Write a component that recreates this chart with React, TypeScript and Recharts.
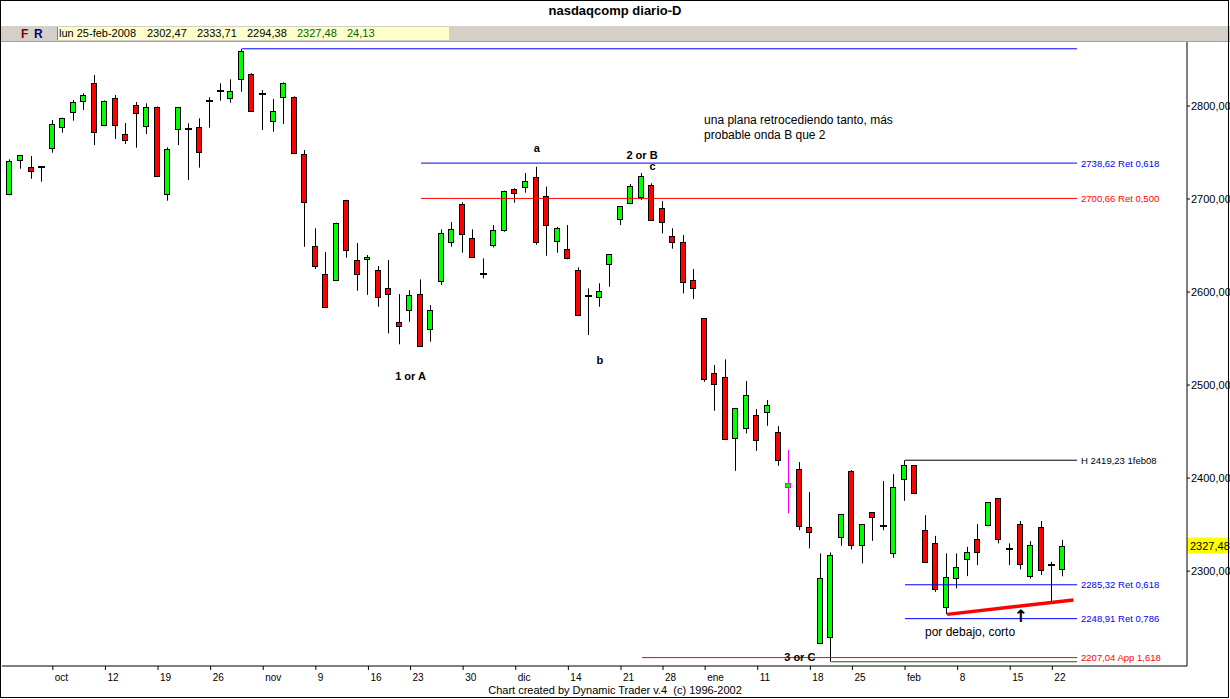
import React from "react";
import { ComposedChart, Bar, XAxis, YAxis, ReferenceLine, ReferenceDot } from "recharts";

const FONT = "'Liberation Sans', Arial, sans-serif";

// trading days, 1 oct 2007 .. 25 feb 2008
const dates = [
  "1-oct", "2-oct", "3-oct", "4-oct", "5-oct", "8-oct", "9-oct", "10-oct", "11-oct", "12-oct",
  "15-oct", "16-oct", "17-oct", "18-oct", "19-oct", "22-oct", "23-oct", "24-oct", "25-oct", "26-oct",
  "29-oct", "30-oct", "31-oct", "1-nov", "2-nov", "5-nov", "6-nov", "7-nov", "8-nov", "9-nov",
  "12-nov", "13-nov", "14-nov", "15-nov", "16-nov", "19-nov", "20-nov", "21-nov", "23-nov", "26-nov",
  "27-nov", "28-nov", "29-nov", "30-nov", "3-dic", "4-dic", "5-dic", "6-dic", "7-dic", "10-dic",
  "11-dic", "12-dic", "13-dic", "14-dic", "17-dic", "18-dic", "19-dic", "20-dic", "21-dic", "24-dic",
  "26-dic", "27-dic", "28-dic", "31-dic", "2-ene", "3-ene", "4-ene", "7-ene", "8-ene", "9-ene",
  "10-ene", "11-ene", "14-ene", "15-ene", "16-ene", "17-ene", "18-ene", "22-ene", "23-ene", "24-ene",
  "25-ene", "28-ene", "29-ene", "30-ene", "31-ene", "1-feb", "4-feb", "5-feb", "6-feb", "7-feb",
  "8-feb", "11-feb", "12-feb", "13-feb", "14-feb", "15-feb", "19-feb", "20-feb", "21-feb", "22-feb",
  "25-feb",
];

const opens = [
  2705, 2741.6, 2734.1, 2734, 2755.2, 2777.7, 2793.9, 2805.7, 2824.4, 2779.9,
  2808.3, 2769.6, 2800.8, 2778.8, 2798.6, 2705.7, 2775.6, 2775.2, 2777.1, 2804.8,
  2816.2, 2808.3, 2828.7, 2834.1, 2812.3, 2783.5, 2810, 2809.4, 2748.1, 2649.1,
  2619, 2612.6, 2698.6, 2634.1, 2635.2, 2623.6, 2604, 2567.4, 2580.6, 2597.5,
  2559.9, 2611.5, 2653.4, 2694.3, 2657.7, 2619.6, 2650.2, 2666.3, 2710.4, 2712.6,
  2723.7, 2703.2, 2654.5, 2645.9, 2623.3, 2595.8, 2594.9, 2629.8, 2678.2, 2695.4,
  2701.8, 2714.7, 2690, 2660.2, 2653.4, 2612.6, 2571.7, 2512.6, 2508.3, 2442.7,
  2453.4, 2467.4, 2470.7, 2449.1, 2390, 2409.3, 2346.9, 2222.2, 2229.3, 2336.2,
  2407.5, 2327.6, 2363.1, 2349.2, 2319, 2398.6, 2413.6, 2344.1, 2329.8, 2260.9,
  2292.1, 2312.9, 2334.1, 2349.1, 2378.2, 2323.2, 2350.2, 2294.9, 2346.9, 2305.9,
  2302.47,
];

const highs = [
  2742.7, 2747, 2746.2, 2735.5, 2784.9, 2787.5, 2806.5, 2813.7, 2833.3, 2806,
  2811.8, 2781.7, 2804.3, 2802.9, 2799.5, 2755.6, 2799, 2781.4, 2786.8, 2809.4,
  2824.4, 2828.7, 2861.51, 2835.2, 2817.2, 2807.5, 2825.5, 2810.5, 2752.7, 2668.5,
  2643, 2674.5, 2699.2, 2652.7, 2639.8, 2627.9, 2634.4, 2597.8, 2602.1, 2613.6,
  2586, 2667.4, 2675.3, 2696.4, 2667.4, 2636.2, 2672, 2709, 2711.5, 2728,
  2734.7, 2713.2, 2670, 2672, 2626.6, 2604, 2609.4, 2640.8, 2692.5, 2716.1,
  2728, 2716.9, 2697.8, 2668.5, 2661.3, 2624.7, 2572.2, 2521.5, 2527.6, 2475.3,
  2504.3, 2474.2, 2483.9, 2455.9, 2430.1, 2417.2, 2384.9, 2319, 2320.1, 2361.5,
  2408.6, 2350.5, 2363.5, 2396.8, 2404.3, 2419.23, 2414, 2360.2, 2337.9, 2319,
  2319, 2326.1, 2350.5, 2374.2, 2378.5, 2329.8, 2353.8, 2332.2, 2353.8, 2310,
  2333.71,
];

const lows = [
  2704, 2732.6, 2721.8, 2718.6, 2749.8, 2771.3, 2784.2, 2795.7, 2758, 2778.5,
  2764.5, 2759.1, 2755.2, 2769.9, 2724.5, 2698.2, 2758, 2720.4, 2733.7, 2776.7,
  2805.7, 2803.5, 2815.4, 2793.9, 2774.2, 2772.4, 2780.6, 2748.5, 2648.7, 2624.7,
  2583, 2612, 2636.9, 2601.4, 2597, 2584.2, 2555.6, 2543.8, 2568, 2540.9,
  2546.6, 2607.5, 2648.7, 2642.3, 2637.3, 2614.7, 2648, 2664.8, 2696, 2706.8,
  2650.9, 2639, 2642.3, 2635.2, 2574.5, 2553.8, 2584.2, 2605.7, 2672, 2695,
  2698.9, 2676.8, 2663.1, 2646.6, 2598.6, 2592.5, 2503.5, 2472.4, 2441, 2407.8,
  2448, 2429.3, 2456.2, 2413.2, 2362, 2344, 2324.4, 2221.8, 2202.54, 2327.2,
  2323.3, 2308.3, 2332.6, 2344, 2314.3, 2375.6, 2383, 2309.7, 2277.7, 2253.7,
  2281.4, 2294.6, 2306.4, 2348.8, 2329.8, 2306.4, 2301.8, 2292, 2295.7, 2266.3,
  2294.38,
];

const closes = [
  2740.5, 2747, 2729.8, 2734.8, 2780.3, 2786.8, 2804, 2811.5, 2772.4, 2805,
  2779.9, 2763.8, 2792.8, 2798.6, 2725, 2753.4, 2798.6, 2774.6, 2750.9, 2805.6,
  2816.9, 2815.8, 2858.8, 2794.9, 2812.9, 2794.3, 2824.4, 2749.1, 2696.4, 2628.3,
  2584.2, 2673.9, 2644.8, 2619, 2637.3, 2594.3, 2597.5, 2563.4, 2596.4, 2541.9,
  2580.3, 2663.1, 2667.4, 2662, 2637.9, 2619, 2666.3, 2708.3, 2706.8, 2719,
  2653.4, 2671.7, 2668.5, 2636.2, 2574.9, 2595.2, 2600.7, 2640.5, 2692.1, 2713.7,
  2724.4, 2677.1, 2674.9, 2653.4, 2610.4, 2604, 2506.1, 2500.7, 2441.6, 2474.9,
  2488.9, 2440.5, 2478.2, 2419.1, 2394.3, 2348, 2341.6, 2292.1, 2316.9, 2360.9,
  2327.6, 2350.2, 2358.4, 2348.7, 2390, 2413.6, 2383.5, 2310, 2280.3, 2293.2,
  2304.6, 2320.1, 2320.8, 2373.9, 2334.1, 2323.9, 2307.2, 2327.6, 2300.7, 2306.7,
  2327.48,
];

// weekly ticks (Fridays, month name on the first one)
const tickIdx = [4, 9, 14, 19, 24, 29, 34, 38, 43, 48, 53, 58, 62, 66, 71, 76, 80, 85, 90, 95, 99];
const tickLabels = ["oct", "12", "19", "26", "nov", "9", "16", "23", "30", "dic", "14", "21", "28", "ene", "11", "18", "25", "feb", "8", "15", "22"];
const priceTicks = [2300, 2400, 2500, 2600, 2700, 2800];

// horizontal levels: value, start bar, text at the right end
const levelValues = [2861.51, 2738.62, 2700.66, 2419.23, 2285.32, 2248.91, 2207.04, 2202.54];
const levelStart = [22, 39, 39, 85, 85, 85, 60, 78];
const levelTexts = ["", "2738,62 Ret 0,618", "2700,66 Ret 0,500", "H 2419,23 1feb08", "2285,32 Ret 0,618", "2248,91 Ret 0,786", "2207,04 App 1,618", ""];
const levelColors = ["#0000ff", "#0000ff", "#ff0000", "#000000", "#0000ff", "#0000ff", "#ff0000", "#006400"];
const levelEnd = 101.35;

// wave labels: text, bar, price
const waveTexts = ["a", "2 or B", "c", "1 or A", "b", "3 or C"];
const waveBars = [50, 60, 61, 38, 56, 75];
const wavePrices = [2755.2, 2747.3, 2735.5, 2509.7, 2526.5, 2207.5];

// trend line (Feb 7 low to the last bar)
const trendBars = [89, 101];
const trendPrices = [2253.5, 2269];

const lastClose = 2327.48;
const selectedBar = 74;

const data = dates.map((d, i) => ({
  i,
  date: d,
  o: opens[i],
  h: highs[i],
  l: lows[i],
  c: closes[i],
  range: [lows[i], highs[i]],
}));

function Candle(props: any) {
  const { x, y, width, height, payload } = props;
  if (x == null || payload == null) return null;
  const top = Math.min(y, y + height);
  const bot = Math.max(y, y + height);
  const { o, h, l, c, i } = payload;
  const k = (bot - top) / (h - l || 1);
  const py = (v: number) => top + (h - v) * k;
  const n = Math.round(x + width / 2);
  const edge = i === selectedBar ? "#ff00ff" : "#000";
  const wx = n - 0.5;
  if (Math.abs(o - c) < 1) {
    const yy = Math.round(py((o + c) / 2));
    return (
      <g>
        <line x1={wx} x2={wx} y1={top} y2={bot} stroke={edge} strokeWidth={1} />
        <rect x={n - 4} y={yy - 1} width={7} height={2} fill="#000" />
      </g>
    );
  }
  const bt = Math.round(py(Math.max(o, c)));
  const bb = Math.round(py(Math.min(o, c)));
  return (
    <g>
      <line x1={wx} x2={wx} y1={top} y2={bot} stroke={edge} strokeWidth={1} />
      <rect
        x={n - 3.5}
        y={bt + 0.5}
        width={5}
        height={Math.max(bb - bt, 1)}
        fill={c > o ? "#00ff00" : "#ff0000"}
        stroke={edge}
        strokeWidth={1}
      />
    </g>
  );
}

const XTick = (p: any) => {
  const k = tickIdx.indexOf(p.payload.value);
  return (
    <text x={p.x + 2} y={p.y + 5} fontSize={10} fontFamily={FONT} fill="#000" dominantBaseline="central">
      {tickLabels[k]}
    </text>
  );
};

const YTick = (p: any) => (
  <text x={p.x} y={p.y} fontSize={11} fontFamily={FONT} fill="#000" dominantBaseline="central" textAnchor="start">
    {p.payload.value.toFixed(2).replace(".", ",")}
  </text>
);

const rightText = (text: string, color: string) => (p: any) => {
  const vb = p.viewBox || {};
  return (
    <text x={vb.x + vb.width + 4} y={vb.y} fontSize={9.5} fontFamily={FONT} fill={color} dominantBaseline="central">
      {text}
    </text>
  );
};

const waveText = (text: string) => (p: any) => {
  const vb = p.viewBox || {};
  return (
    <text
      x={vb.x + vb.width / 2}
      y={vb.y + vb.height / 2}
      fontSize={11}
      fontWeight="bold"
      fontFamily={FONT}
      fill="#000"
      textAnchor="middle"
      dominantBaseline="central"
    >
      {text}
    </text>
  );
};

const noteText = (lines: string[]) => (p: any) => {
  const vb = p.viewBox || {};
  return (
    <text x={vb.x + vb.width / 2} y={vb.y + vb.height / 2} fontSize={12} fontFamily={FONT} fill="#000" dominantBaseline="central">
      {lines.map((t, k) => (
        <tspan key={k} x={vb.x + vb.width / 2} dy={k === 0 ? 0 : 15.5}>
          {t}
        </tspan>
      ))}
    </text>
  );
};

const arrowText = (p: any) => {
  const vb = p.viewBox || {};
  return (
    <text
      x={vb.x + vb.width / 2}
      y={vb.y + vb.height / 2}
      fontSize={17}
      fontWeight="bold"
      fontFamily="'DejaVu Sans', sans-serif"
      fill="#000"
      textAnchor="middle"
      dominantBaseline="central"
    >
      ↑
    </text>
  );
};

const lastTag = (p: any) => {
  const vb = p.viewBox || {};
  const x0 = vb.x + vb.width;
  return (
    <g>
      <rect x={x0} y={vb.y - 8} width={45} height={16} fill="#ffff00" />
      <text x={x0 + 3} y={vb.y} fontSize={11} fontFamily={FONT} fill="#000" dominantBaseline="central">
        {lastClose.toFixed(2).replace(".", ",")}
      </text>
    </g>
  );
};

export default function App() {
  return (
    <div style={{ position: "absolute", left: 0, top: 0, width: 1230, height: 699, background: "#fff", overflow: "hidden", fontFamily: FONT }}>
      <div
        style={{ position: "absolute", left: 0, top: 3, width: 1230, textAlign: "center", fontSize: 13, fontWeight: "bold", color: "#000" }}
      >
        nasdaqcomp diario-D
      </div>
      <div style={{ position: "absolute", left: 0, top: 26, width: 1230, height: 15, background: "#d4d0c8" }} />
      <div style={{ position: "absolute", left: 0, top: 41, width: 1230, height: 1, background: "#a0a0a0" }} />
      <div style={{ position: "absolute", left: 21, top: 27, fontSize: 12, fontWeight: "bold", color: "#800000" }}>F</div>
      <div style={{ position: "absolute", left: 34, top: 27, fontSize: 12, fontWeight: "bold", color: "#000080" }}>R</div>
      <div style={{ position: "absolute", left: 57, top: 27, width: 391, height: 13, background: "#ffffcc", borderLeft: "1px solid #808080" }} />
      {[
        ["lun 25-feb-2008", 59, "#000"],
        ["2302,47", 147, "#000"],
        ["2333,71", 197, "#000"],
        ["2294,38", 247, "#000"],
        ["2327,48", 297, "#006400"],
        ["24,13", 347, "#006400"],
      ].map(([t, l, col]) => (
        <div key={t as string} style={{ position: "absolute", left: l as number, top: 27, fontSize: 11, lineHeight: "13px", color: col as string }}>
          {t}
        </div>
      ))}

      <div style={{ position: "absolute", left: 0, top: 0 }}>
        <ComposedChart width={1230} height={699} data={data} margin={{ top: 42, right: 0, bottom: 0, left: 2 }}>
          <XAxis
            type="number"
            dataKey="i"
            domain={[-0.83, 111.8]}
            allowDataOverflow
            ticks={tickIdx}
            interval={0}
            height={33}
            tick={<XTick />}
            tickSize={4}
            tickLine={{ stroke: "#000" }}
            axisLine={{ stroke: "#000" }}
          />
          <YAxis
            type="number"
            orientation="right"
            width={43}
            domain={[2198, 2868.8]}
            allowDataOverflow
            ticks={priceTicks}
            interval={0}
            tick={<YTick />}
            tickSize={3}
            tickMargin={1}
            tickLine={{ stroke: "#000" }}
            axisLine={{ stroke: "#000" }}
          />
          <Bar dataKey="range" barSize={6} shape={<Candle />} isAnimationActive={false} />
          {levelValues.map((v, k) => (
            <ReferenceLine
              key={"lv" + k}
              segment={[
                { x: levelStart[k], y: v },
                { x: levelEnd, y: v },
              ]}
              stroke={levelColors[k]}
              strokeWidth={1}
              label={levelTexts[k] ? rightText(levelTexts[k], levelColors[k]) : undefined}
            />
          ))}
          <ReferenceLine
            segment={[
              { x: trendBars[0], y: trendPrices[0] },
              { x: trendBars[1], y: trendPrices[1] },
            ]}
            stroke="#ff0000"
            strokeWidth={3.5}
          />
          <ReferenceLine y={lastClose} stroke="none" label={lastTag} />
          {waveTexts.map((t, k) => (
            <ReferenceDot key={"w" + k} x={waveBars[k]} y={wavePrices[k]} r={1} fill="none" stroke="none" label={waveText(t)} />
          ))}
          <ReferenceDot
            x={65.9}
            y={2785.2}
            r={1}
            fill="none"
            stroke="none"
            label={noteText(["una plana retrocediendo tanto, más", "probable onda B que 2"])}
          />
          <ReferenceDot x={86.9} y={2234.8} r={1} fill="none" stroke="none" label={noteText(["por debajo, corto"])} />
          <ReferenceDot x={96} y={2252.2} r={1} fill="none" stroke="none" label={arrowText} />
        </ComposedChart>
      </div>

      <div style={{ position: "absolute", left: 0, top: 684, width: 1230, textAlign: "center", fontSize: 11, color: "#000" }}>
        Chart created by Dynamic Trader v.4&nbsp;&nbsp;(c) 1996-2002
      </div>
      <div
        style={{ position: "absolute", left: 0, top: 0, width: 1229, height: 698, border: "1px solid #000", boxSizing: "border-box", pointerEvents: "none" }}
      />
    </div>
  );
}
